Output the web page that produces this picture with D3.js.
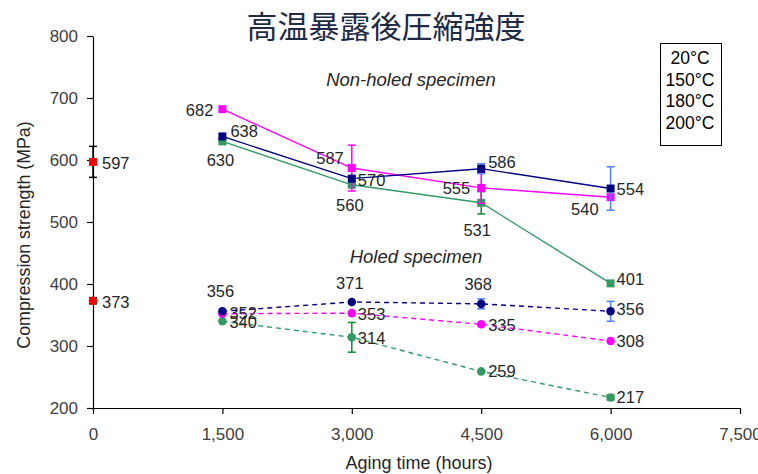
<!DOCTYPE html>
<html>
<head>
<meta charset="utf-8">
<script src="https://cdn.jsdelivr.net/npm/d3@7"></script>
<style>
    body { margin: 0; background: #fff; }
    svg text { font-family: "Liberation Sans", Arial, sans-serif; }
    .tick text { fill: #404040; font-size: 17px; }
    .axis path, .axis line { stroke: #000; stroke-width: 1.2px; }
    .lbl { fill: #262626; font-size: 16.5px; }
</style>
</head>
<body>
<svg width="758" height="474"></svg>
<script>
    // data
    var hours = [1500, 3000, 4500, 6000];
    var ref20 = { hours: 0, nonHoled: 597, holed: 373, errNonHoled: 25, errHoled: 5 };

    var nonHoled150 = [638, 570, 586, 554];
    var nonHoled180 = [682, 587, 555, 540];
    var nonHoled200 = [630, 560, 531, 401];
    var holed150 = [356, 371, 368, 356];
    var holed180 = [352, 353, 335, 308];
    var holed200 = [340, 314, 259, 217];

    var errNonHoled150 = [null, null, 8, 35];
    var errNonHoled180 = [null, 37, 25, null];
    var errNonHoled200 = [null, null, 18, null];
    var errHoled150 = [null, null, 8, 16];
    var errHoled180 = [null, null, null, null];
    var errHoled200 = [null, 24, null, 4];

    var legendLabels = ["20°C", "150°C", "180°C", "200°C"];
    var xTicks = [0, 1500, 3000, 4500, 6000, 7500];
    var yTicks = [200, 300, 400, 500, 600, 700, 800];

    // label placement [dx, dy, anchor] per point
    var pos = {
        n150: [[8, 1, "start"], [6, 7, "start"], [7, -1, "start"], [6, 6.5, "start"]],
        n180: [[-9, 7, "end"], [-8, -4, "end"], [-11, 6, "end"], [-12, 18, "end"]],
        n200: [[-2, 25, "middle"], [-2, 26, "middle"], [-4, 33, "middle"], [6, 2, "start"]],
        h150: [[-2, -14, "middle"], [-2, -13, "middle"], [-3, -14, "middle"], [6, 4, "start"]],
        h180: [[7, 5, "start"], [6, 7, "start"], [7, 7, "start"], [6, 6, "start"]],
        h200: [[7, 7, "start"], [6, 7, "start"], [7, 6, "start"], [6, 6, "start"]]
    };

    var navy = "#000080", magenta = "#ff00ff", green = "#339966";

    var svg = d3.select("svg");

    var x = d3.scaleLinear().domain([0, 7500]).range([93, 740]);
    var y = d3.scaleLinear().domain([200, 800]).range([408, 36]);

    var xAxis = d3.axisBottom(x).tickValues(xTicks).tickSize(6).tickSizeOuter(0)
        .tickPadding(14).tickFormat(d3.format(","));
    var yAxis = d3.axisLeft(y).tickValues(yTicks).tickSize(6).tickSizeOuter(0)
        .tickPadding(9);

    svg.append("g").attr("class", "axis").attr("transform", "translate(0,408)").call(xAxis);
    svg.append("g").attr("class", "axis").attr("transform", "translate(93,0)").call(yAxis);

    // titles
    svg.append("text")
        .attr("x", 386).attr("y", 38)
        .attr("text-anchor", "middle")
        .style("font-family", "'Noto Sans CJK JP', sans-serif")
        .style("font-size", "31px")
        .style("fill", "#1f2a44")
        .text("高温暴露後圧縮強度");

    svg.append("text")
        .attr("transform", "translate(30,235) rotate(-90)")
        .attr("text-anchor", "middle")
        .style("font-size", "17.8px").style("fill", "#262626")
        .text("Compression strength (MPa)");

    svg.append("text")
        .attr("x", 419).attr("y", 469)
        .attr("text-anchor", "middle")
        .style("font-size", "18px").style("fill", "#262626")
        .text("Aging time (hours)");

    svg.append("text")
        .attr("x", 411).attr("y", 86).attr("text-anchor", "middle")
        .style("font-size", "18.5px").style("font-style", "italic").style("fill", "#262626")
        .text("Non-holed specimen");

    svg.append("text")
        .attr("x", 416).attr("y", 263).attr("text-anchor", "middle")
        .style("font-size", "18.5px").style("font-style", "italic").style("fill", "#262626")
        .text("Holed specimen");

    // legend box (text only)
    svg.append("rect")
        .attr("x", 660.5).attr("y", 43.5).attr("width", 61).attr("height", 102)
        .attr("fill", "#fff").attr("stroke", "#000").attr("stroke-width", 1);
    svg.selectAll(".leg").data(legendLabels).enter().append("text")
        .attr("class", "leg")
        .attr("x", 690).attr("y", function (d, i) { return 64 + i * 21.7; })
        .attr("text-anchor", "middle")
        .style("font-size", "17.5px").style("fill", "#000")
        .text(function (d) { return d; });

    function errBars(vals, errs, color) {
        var g = svg.append("g");
        vals.forEach(function (v, i) {
            if (errs[i] == null) return;
            var cx = x(hours[i]);
            var y1 = y(v + errs[i]), y2 = y(v - errs[i]);
            g.append("line").attr("x1", cx).attr("x2", cx).attr("y1", y1).attr("y2", y2)
                .attr("stroke", color).attr("stroke-width", 1.5);
            [y1, y2].forEach(function (yy) {
                g.append("line").attr("x1", cx - 4).attr("x2", cx + 4).attr("y1", yy).attr("y2", yy)
                    .attr("stroke", color).attr("stroke-width", 1.5);
            });
        });
    }

    var line = d3.line()
        .x(function (d, i) { return x(hours[i]); })
        .y(function (d) { return y(d); });

    function series(vals, color, dashed, shape, labels) {
        svg.append("path")
            .datum(vals)
            .attr("fill", "none")
            .attr("stroke", color)
            .attr("stroke-width", 1.4)
            .attr("stroke-dasharray", dashed ? "5,4" : null)
            .attr("d", line);
        var g = svg.append("g");
        if (shape === "square") {
            g.selectAll("rect").data(vals).enter().append("rect")
                .attr("x", function (d, i) { return x(hours[i]) - 4; })
                .attr("y", function (d) { return y(d) - 4; })
                .attr("width", 8).attr("height", 8)
                .attr("fill", color);
        } else {
            g.selectAll("circle").data(vals).enter().append("circle")
                .attr("cx", function (d, i) { return x(hours[i]); })
                .attr("cy", function (d) { return y(d); })
                .attr("r", 4.3)
                .attr("fill", color);
        }
        g.selectAll("text").data(vals).enter().append("text")
            .attr("class", "lbl")
            .attr("x", function (d, i) { return x(hours[i]) + labels[i][0]; })
            .attr("y", function (d, i) { return y(d) + labels[i][1]; })
            .attr("text-anchor", function (d, i) { return labels[i][2]; })
            .text(function (d) { return d; });
    }

    // holed (dashed, circles)
    errBars(holed200, errHoled200, "#108a30");
    series(holed200, green, true, "circle", pos.h200);
    errBars(holed180, errHoled180, magenta);
    series(holed180, magenta, true, "circle", pos.h180);
    errBars(holed150, errHoled150, "#5080ff");
    series(holed150, navy, true, "circle", pos.h150);

    // non-holed (solid, squares)
    errBars(nonHoled200, errNonHoled200, "#108a30");
    series(nonHoled200, green, false, "square", pos.n200);
    errBars(nonHoled180, errNonHoled180, magenta);
    series(nonHoled180, magenta, false, "square", pos.n180);
    errBars(nonHoled150, errNonHoled150, "#5080ff");
    series(nonHoled150, navy, false, "square", pos.n150);

    // 20°C reference points
    var rx = x(ref20.hours);
    [[ref20.nonHoled, ref20.errNonHoled, "square"], [ref20.holed, ref20.errHoled, "circle"]].forEach(function (p) {
        var yy1 = y(p[0] + p[1]), yy2 = y(p[0] - p[1]);
        svg.append("line").attr("x1", rx).attr("x2", rx).attr("y1", yy1).attr("y2", yy2)
            .attr("stroke", "#000").attr("stroke-width", 1.5);
        [yy1, yy2].forEach(function (yy) {
            svg.append("line").attr("x1", rx - 4).attr("x2", rx + 4).attr("y1", yy).attr("y2", yy)
                .attr("stroke", "#000").attr("stroke-width", 1.5);
        });
        if (p[2] === "square") {
            svg.append("rect").attr("x", rx - 4).attr("y", y(p[0]) - 4)
                .attr("width", 8).attr("height", 8).attr("fill", "#ff0000");
        } else {
            svg.append("circle").attr("cx", rx).attr("cy", y(p[0])).attr("r", 4.3).attr("fill", "#ff0000");
        }
        svg.append("text").attr("class", "lbl")
            .attr("x", rx + 9).attr("y", y(p[0]) + 7)
            .text(p[0]);
    });
</script>
</body>
</html>
